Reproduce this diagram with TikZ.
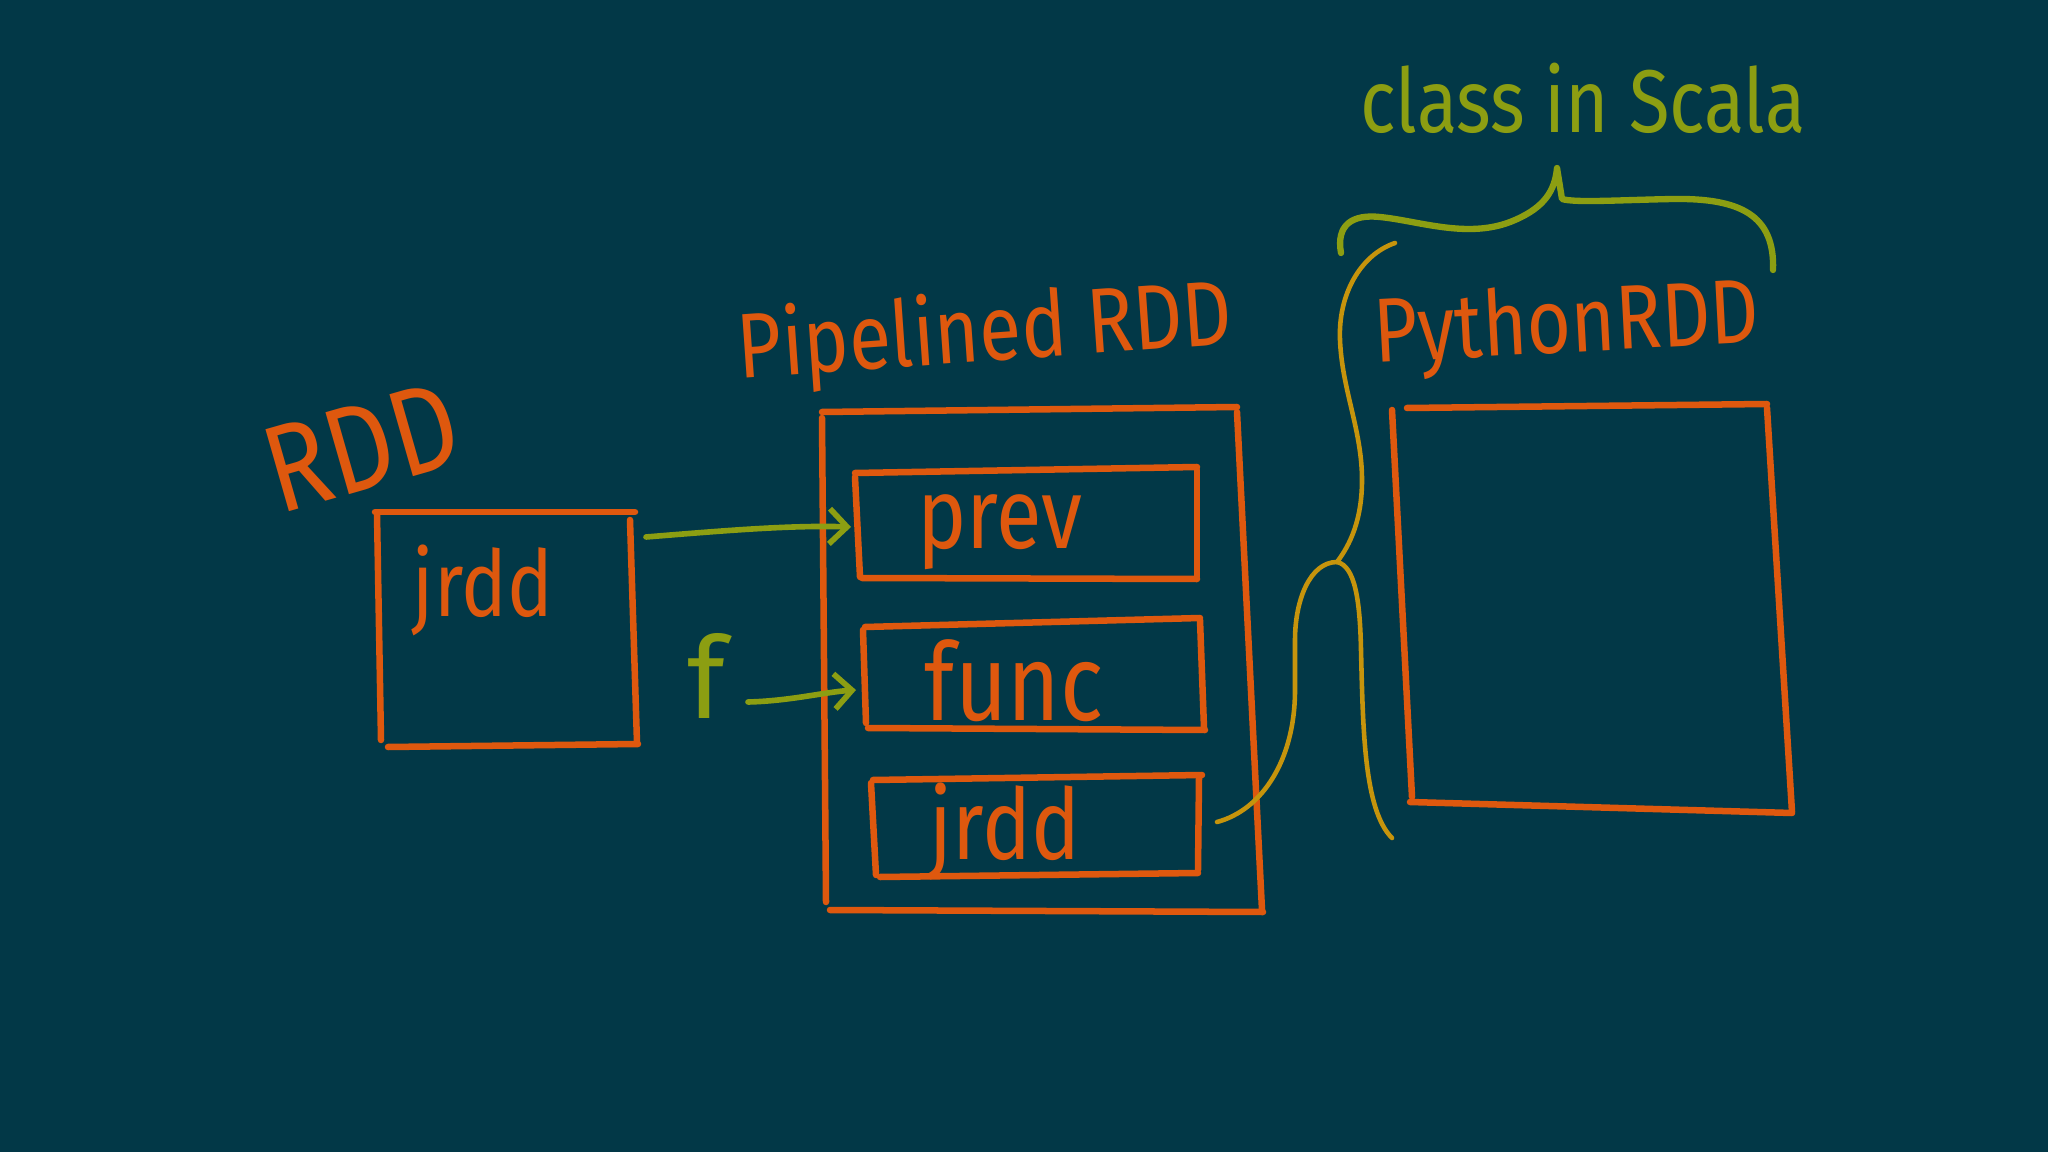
\documentclass[tikz,border=0pt]{standalone}
\usepackage{fontspec}
\newfontfamily\hand{Fira Sans}
\usetikzlibrary{arrows.meta}
\definecolor{bg}{RGB}{2,56,71}
\definecolor{org}{RGB}{222,88,14}
\definecolor{grn}{RGB}{140,158,18}
\definecolor{gld}{RGB}{198,148,12}
\newcommand\hw[2]{\resizebox{#1}{!}{\scalebox{1}[1.2]{\hand #2}}}
\begin{document}
\begin{tikzpicture}[x=0.01cm,y=-0.01cm,line cap=round,line join=round,
  obox/.style={draw=org,line width=1.85pt},
  lbl/.style={inner sep=0pt,text=org},
  glbl/.style={inner sep=0pt,text=grn},
  garrow/.style={draw=grn,line width=1.6pt,-{Straight Barb[length=5pt,width=10pt,line width=1.6pt]}},
  gbrace/.style={draw=grn,line width=1.8pt},
  ybrace/.style={draw=gld,line width=1.3pt}]
\fill[bg] (0,0) rectangle (2048,1152);
\useasboundingbox (0,0) rectangle (2048,1152);

% ---- labels ----
\node[lbl,rotate=16] (rddlbl) at (362,447) {\hw{1.95cm}{RDD}};
\node[lbl,rotate=4] (pipelbl) at (985,335) {\hw{4.95cm}{Pipelined RDD}};
\node[lbl,rotate=3] (pylbl) at (1567,328) {\hw{3.85cm}{PythonRDD}};
\node[glbl] (scala) at (1583,98) {\hw{4.45cm}{class in Scala}};

% ---- RDD box ----
\draw[obox] (375,512) -- (635,512);
\draw[obox] (377,514) -- (381,740);
\draw[obox] (630,520) -- (637,743);
\draw[obox] (388,747) -- (638,744);
\node[lbl] (rddjrdd) at (483,590) {\hw{1.4cm}{jrdd}};

% ---- PipelinedRDD box ----
\draw[obox] (822,412) -- (1237,407);
\draw[obox] (822,418) -- (826,902);
\draw[obox] (1237,412) -- (1262,910);
\draw[obox] (830,910) -- (1263,912);

% prev
\draw[obox] (855,473) -- (1197,467);
\draw[obox] (855,477) -- (860,577);
\draw[obox] (1197,470) -- (1197,577);
\draw[obox] (862,578) -- (1197,579);
\node[lbl] (prev) at (1000,532) {\hw{1.65cm}{prev}};

% func
\draw[obox] (865,627) -- (1200,618);
\draw[obox] (863,630) -- (866,723);
\draw[obox] (1200,620) -- (1204,728);
\draw[obox] (868,728) -- (1205,730);
\node[lbl] (func) at (1014,681) {\hw{1.78cm}{func}};

% jrdd
\draw[obox] (873,780) -- (1202,775);
\draw[obox] (871,783) -- (876,875);
\draw[obox] (1199,778) -- (1198,870);
\draw[obox] (880,877) -- (1198,873);
\node[lbl] (pjrdd) at (1005,832) {\hw{1.5cm}{jrdd}};

% ---- PythonRDD box ----
\draw[obox] (1407,408) -- (1767,404);
\draw[obox] (1392,410) -- (1412,797);
\draw[obox] (1767,408) -- (1792,812);
\draw[obox] (1410,802) -- (1792,813);

% ---- arrows ----
\node[glbl] (f) at (706,676) {\resizebox{!}{0.85cm}{\hand f}};
\coordinate (rddR) at (646,537);
\coordinate (prevL) at (851,527);
\coordinate (fR) at (748,702);
\coordinate (funcL) at (856,690);
\draw[garrow] (rddR) .. controls (720,531) and (790,525) .. (prevL);
\draw[garrow] (fR) .. controls (790,701) and (825,692) .. (funcL);

% ---- horizontal brace (class in Scala) ----
\draw[gbrace] (1341,253) .. controls (1336,225) and (1352,214) .. (1380,217)
  .. controls (1420,221) and (1470,240) .. (1515,220)
  .. controls (1545,207) and (1555,190) .. (1557,168)
  -- (1562,199)
  .. controls (1575,203) and (1620,200) .. (1673,199)
  .. controls (1740,198) and (1775,215) .. (1773,270);

% ---- vertical brace (jrdd -> PythonRDD) ----
\coordinate (pjrddR) at (1217,822);
\coordinate (tip) at (1337,562);
\draw[ybrace] (1395,243) .. controls (1360,255) and (1338,295) .. (1340,340)
  .. controls (1342,390) and (1362,430) .. (1362,480)
  .. controls (1362,520) and (1350,545) .. (tip);
\draw[ybrace] (tip) .. controls (1310,562) and (1295,600) .. (1295,640)
  -- (1295,690)
  .. controls (1295,760) and (1262,810) .. (pjrddR);
\draw[ybrace] (tip) .. controls (1355,566) and (1360,600) .. (1361,650)
  .. controls (1363,730) and (1364,810) .. (1392,838);
\end{tikzpicture}
\end{document}
